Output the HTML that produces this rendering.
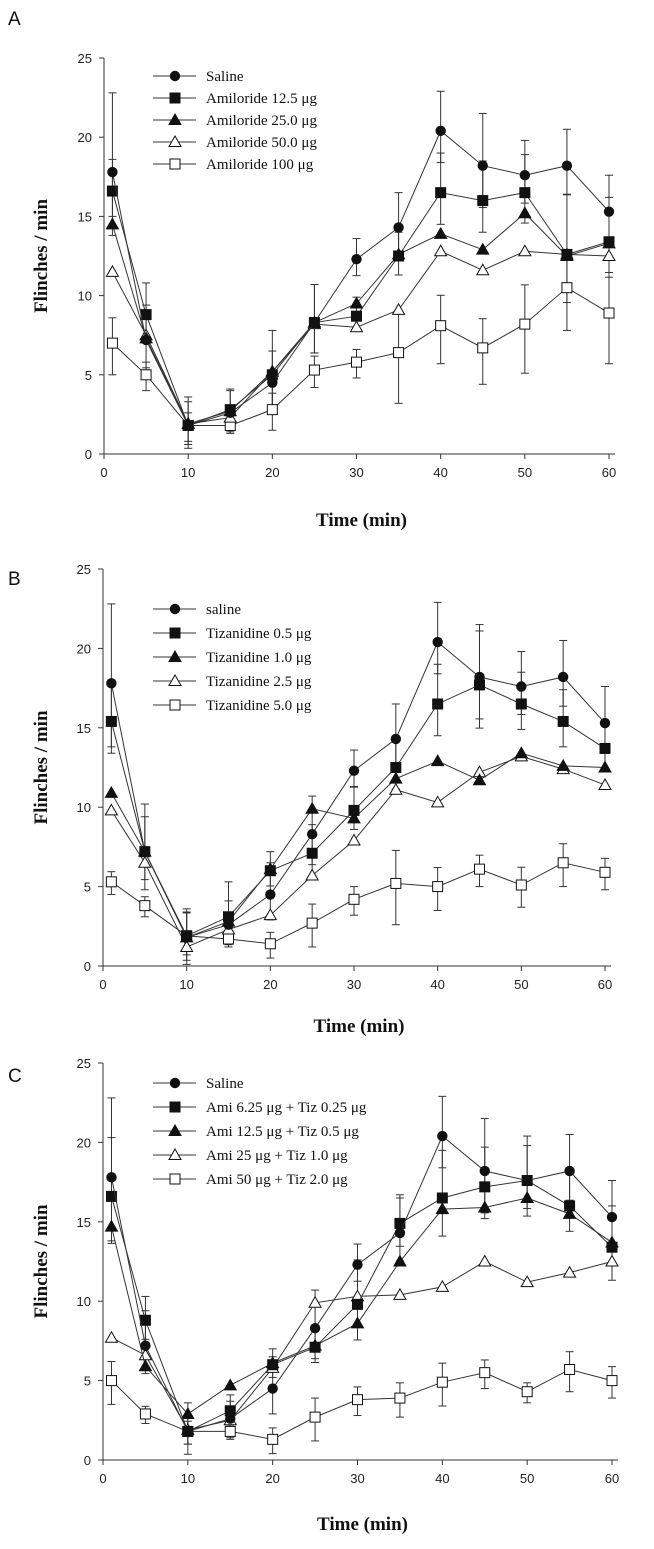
<!DOCTYPE html>
<html><head><meta charset="utf-8">
<style>
body{margin:0;background:#fff;}
svg{display:block;}
.tk{font-family:"Liberation Sans",sans-serif;font-size:13px;fill:#222;}
.lg{font-family:"Liberation Serif",serif;font-size:15px;fill:#111;}
.ttl{font-family:"Liberation Serif",serif;font-size:19px;font-weight:bold;fill:#111;}
.pl{font-family:"Liberation Sans",sans-serif;font-size:19px;fill:#111;}
</style></head>
<body>
<svg id="chart" width="654" height="1549"></svg>
<script>
const times=[1,5,10,15,20,25,30,35,40,45,50,55,60];
const yTicks=[0,5,10,15,20,25];
const xTicks=[0,10,20,30,40,50,60];
const saline=[17.8,7.2,1.8,2.6,4.5,8.3,12.3,14.3,20.4,18.2,17.6,18.2,15.3];
const salineErr=[5.0,2.2,1.8,1.5,2.0,2.4,1.3,2.2,2.5,3.3,2.2,2.3,2.3];
// Panel A
const aNames=["Saline","Amiloride 12.5 μg","Amiloride 25.0 μg","Amiloride 50.0 μg","Amiloride 100  μg"];
const a1=[16.6,8.8,1.8,2.8,5.0,8.3,8.7,12.5,16.5,16.0,16.5,12.6,13.4];
const a2=[14.5,7.3,1.9,2.7,5.2,8.3,9.5,12.6,13.9,12.9,15.2,12.5,13.3];
const a3=[11.5,7.5,1.9,2.3,5.2,8.2,8.0,9.1,12.8,11.6,12.8,12.6,12.5];
const a4=[7.0,5.0,1.8,1.8,2.8,5.3,5.8,6.4,8.1,6.7,8.2,10.5,8.9];
const a1Err=[2.0,2.0,1.5,1.2,2.8,2.4,1.2,1.5,2.5,2.5,2.4,3.8,2.8];
const a4Err=[2.0,1.0,1.0,0.5,1.3,1.1,1.0,3.2,2.4,2.3,3.1,2.7,3.2];
// Panel B
const bNames=["saline","Tizanidine 0.5 μg","Tizanidine 1.0 μg","Tizanidine 2.5 μg","Tizanidine 5.0 μg"];
const b1=[15.4,7.2,1.9,3.1,6.0,7.1,9.8,12.5,16.5,17.7,16.5,15.4,13.7];
const b2=[10.9,7.2,1.8,2.8,6.1,9.9,9.3,11.8,12.9,11.7,13.4,12.6,12.5];
const b3=[9.8,6.5,1.2,2.3,3.2,5.7,7.9,11.1,10.3,12.2,13.2,12.4,11.4];
const b4=[5.3,3.8,1.9,1.7,1.4,2.7,4.2,5.2,5.0,6.1,5.1,6.5,5.9];
const b1Err=[2.5,3.0,1.5,2.2,1.2,1.8,1.5,1.7,2.5,3.4,2.0,2.0,1.6];
const b4Err=[0.8,0.7,1.8,0.5,0.9,1.5,1.0,2.6,1.5,1.1,1.4,1.5,1.1];
// Panel C
const cNames=["Saline","Ami 6.25 μg + Tiz 0.25 μg","Ami 12.5 μg + Tiz 0.5 μg","Ami 25 μg + Tiz 1.0 μg","Ami 50 μg + Tiz 2.0 μg"];
const c1=[16.6,8.8,1.8,3.1,6.0,7.1,9.8,14.9,16.5,17.2,17.6,16.0,13.4];
const c2=[14.7,5.9,2.9,4.7,6.1,7.2,8.6,12.5,15.8,15.9,16.5,15.5,13.7];
const c3=[7.7,6.6,1.9,2.5,5.8,9.9,10.3,10.4,10.9,12.5,11.2,11.8,12.5];
const c4=[5.0,2.9,1.8,1.8,1.3,2.7,3.8,3.9,4.9,5.5,4.3,5.7,5.0];
const c2Err=[3.7,1.5,1.0,0.6,1.0,1.2,2.8,1.8,3.0,2.5,2.8,2.0,2.6];
const c4Err=[1.5,0.6,0.8,0.5,0.9,1.5,1.0,1.2,1.5,1.0,0.7,1.4,1.1];

const NS="http://www.w3.org/2000/svg";
const svg=document.getElementById('chart');
function mk(tag,attrs,parent){const e=document.createElementNS(NS,tag);for(const k in attrs)e.setAttribute(k,attrs[k]);(parent||svg).appendChild(e);return e;}

const panels=[
 {label:"A",x0:104,x60:609,y0:454,y25:58,lgY:76,lgStep:22,names:aNames,series:[saline,a1,a2,a3,a4],errs:[salineErr,a1Err,null,null,a4Err],titleY:526,labelY:25},
 {label:"B",x0:103,x60:605,y0:966,y25:569,lgY:609,lgStep:24,names:bNames,series:[saline,b1,b2,b3,b4],errs:[salineErr,b1Err,null,null,b4Err],titleY:1032,labelY:585},
 {label:"C",x0:103,x60:612,y0:1460,y25:1063,lgY:1083,lgStep:24,names:cNames,series:[saline,c1,c2,c3,c4],errs:[salineErr,c2Err,null,null,c4Err],titleY:1530,labelY:1082}
];
const markers=["circle","square","triangle","otriangle","osquare"];
function marker(g,type,cx,cy){
  const s=5;
  if(type==="circle")return mk('circle',{cx:cx,cy:cy,r:5.2,fill:'#111'},g);
  if(type==="square"||type==="osquare")return mk('rect',{x:cx-s,y:cy-s,width:2*s,height:2*s,fill:type==="square"?'#111':'#fff',stroke:'#111','stroke-width':1},g);
  return mk('polygon',{points:`${cx},${cy-6} ${cx+6},${cy+4.5} ${cx-6},${cy+4.5}`,fill:type==="triangle"?'#111':'#fff',stroke:'#111','stroke-width':1},g);
}
panels.forEach((p,pi)=>{
  const g=mk('g',{});
  
  
  const X=t=>p.x0+(p.x60-p.x0)*t/60;
  const Y=v=>p.y0-(p.y0-p.y25)*v/25;
  const lab=mk('text',{x:8,y:p.labelY,class:'pl'},g);lab.textContent=p.label;
  
  const ax=mk('path',{d:`M${X(0)},${Y(25)}V${Y(0)}H${X(60)+6}`,stroke:'#333',fill:'none','stroke-width':1},g);
  
  yTicks.forEach(v=>{mk('line',{x1:X(0)-5,x2:X(0),y1:Y(v),y2:Y(v),stroke:'#333'},g);
    const t=mk('text',{x:X(0)-12,y:Y(v)+5,class:'tk','text-anchor':'end'},g);t.textContent=v;
    });
  xTicks.forEach(v=>{mk('line',{x1:X(v),x2:X(v),y1:Y(0),y2:Y(0)+5,stroke:'#333'},g);
    const t=mk('text',{x:X(v),y:Y(0)+23,class:'tk','text-anchor':'middle'},g);t.textContent=v;
    });
  const yt=mk('text',{class:'ttl','text-anchor':'middle',transform:`translate(47,${(Y(0)+Y(25))/2}) rotate(-90)`},g);yt.textContent="Flinches / min";
  
  const xt=mk('text',{x:(X(0)+X(60))/2+5,y:p.titleY,class:'ttl','text-anchor':'middle'},g);xt.textContent="Time (min)";
  
  // error bars
  p.series.forEach((s,si)=>{const e=p.errs[si];if(!e)return;
    const dir=si===4?1:-1;
    s.forEach((v,i)=>{const y2=Y(v+dir*-1*e[i]*(dir===-1?-1:1));
      const yy=dir===-1?Y(v+e[i]):Y(Math.max(0,v-e[i]));
      const yy2=dir===-1?Y(Math.max(0,v-e[i]*0.8)):Y(v+e[i]*0.8);
      mk('line',{x1:X(times[i]),x2:X(times[i]),y1:yy,y2:yy2,stroke:'#333','stroke-width':1},g);
      mk('line',{x1:X(times[i])-4,x2:X(times[i])+4,y1:yy,y2:yy,stroke:'#333','stroke-width':1},g);
      mk('line',{x1:X(times[i])-4,x2:X(times[i])+4,y1:yy2,y2:yy2,stroke:'#333','stroke-width':1},g);
    });});
  // series (draw from bottom to top)
  for(let si=p.series.length-1;si>=0;si--){const s=p.series[si];
    const sg=mk('g',{},g);
    
    
    mk('polyline',{points:s.map((v,i)=>X(times[i])+','+Y(v)).join(' '),fill:'none',stroke:'#333','stroke-width':1},sg);
    s.forEach((v,i)=>{const m=marker(sg,markers[si],X(times[i]),Y(v));
      });
  }
  // legend
  const lg=mk('g',{},g);
  
  
  p.names.forEach((n,i)=>{const y=p.lgY+i*p.lgStep;
    const eg=mk('g',{},lg);
    
    
    mk('line',{x1:153,x2:196,y1:y,y2:y,stroke:'#333'},eg);
    marker(eg,markers[i],175,y);
    const t=mk('text',{x:206,y:y+5,class:'lg'},eg);t.textContent=n;});
});
</script>
</body></html>
